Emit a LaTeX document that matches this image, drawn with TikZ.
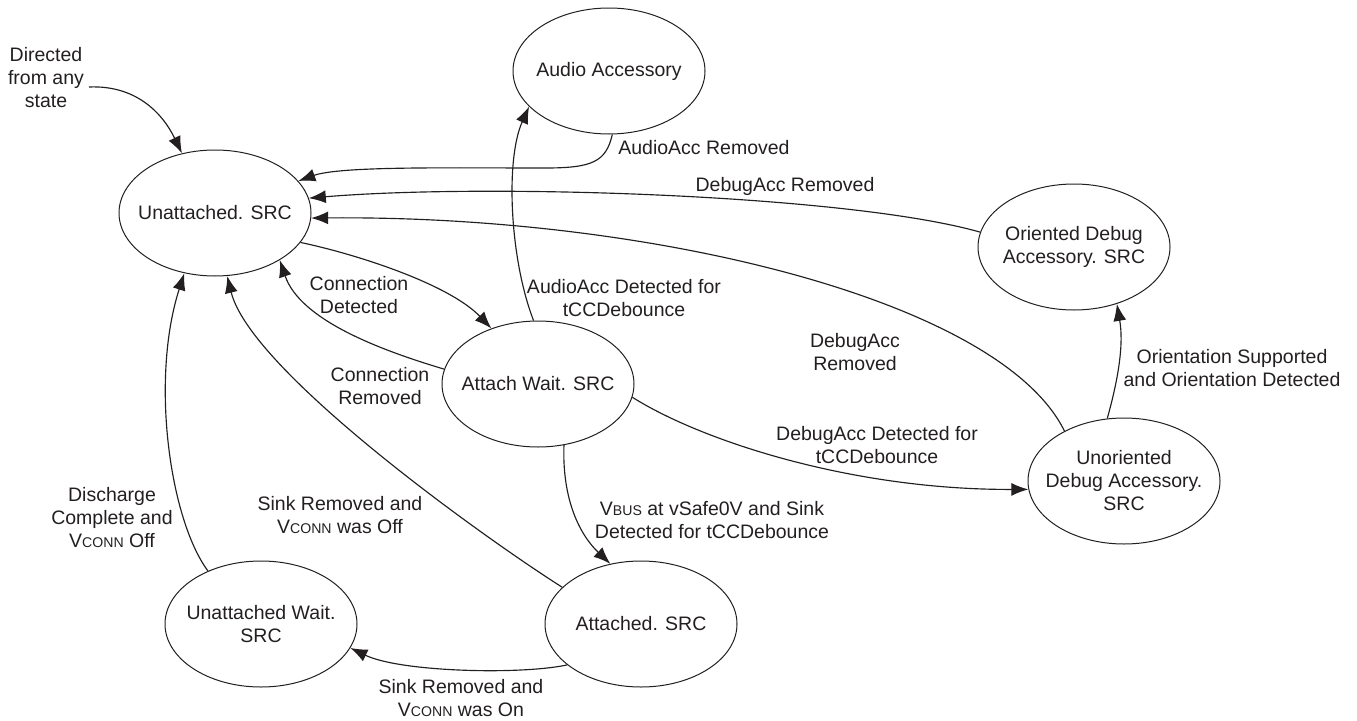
\documentclass[tikz,border=0pt]{standalone}
\usepackage{fontspec}
\setmainfont{Liberation Sans}
\usetikzlibrary{shapes.geometric,arrows.meta}
\definecolor{ink}{HTML}{231F20}
\newcommand{\smc}[1]{{\fontsize{14.1pt}{14pt}\selectfont #1}}
\begin{document}
\begin{tikzpicture}[x=1pt,y=-1pt,
  stbox/.style={ellipse,draw=ink,line width=1pt,minimum width=192pt,minimum height=126pt,inner sep=0pt},
  lbl/.style={align=center,font=\fontsize{19.5pt}{23pt}\selectfont,text=ink,inner sep=0pt},
  arr/.style={draw=ink,line width=1.15pt,-{Latex[length=17pt,width=13pt]}}]
\useasboundingbox (0,0) rectangle (1357,720);
% states
\node[stbox] (un) at (215,213) {};
\node[lbl] (un-t) at (un) {Unattached. SRC};
\node[stbox] (au) at (609,71) {};
\node[lbl] (au-t) at (au) {Audio Accessory};
\node[stbox] (od) at (1074,247) {};
\node[lbl] (od-t) at (od) {Oriented Debug\\Accessory. SRC};
\node[stbox] (aw) at (538,384) {};
\node[lbl] (aw-t) at (aw) {Attach Wait. SRC};
\node[stbox] (ud) at (1124,481) {};
\node[lbl] (ud-t) at (ud) {Unoriented\\Debug Accessory.\\SRC};
\node[stbox] (uw) at (261,624) {};
\node[lbl] (uw-t) at (uw) {Unattached Wait.\\SRC};
\node[stbox] (at) at (641,624) {};
\node[lbl] (at-t) at (at) {Attached. SRC};
% labels
\node[lbl] (l-dir) at (46,78) {Directed\\from any\\state};
\coordinate (dirs) at (89,87);
\node[lbl] (l-aar) at (704,148) {AudioAcc Removed};
\node[lbl] (l-dar1) at (785,186) {DebugAcc Removed};
\node[lbl] (l-dar2) at (855,352) {DebugAcc\\Removed};
\node[lbl] (l-ori) at (1232,368) {Orientation Supported\\and Orientation Detected};
\node[lbl] (l-aad) at (624,298) {AudioAcc Detected for\\tCCDebounce};
\node[lbl] (l-cd) at (359,295) {Connection\\Detected};
\node[lbl] (l-cr) at (380,386) {Connection\\Removed};
\node[lbl] (l-dad) at (877,445) {DebugAcc Detected for\\tCCDebounce};
\node[lbl] (l-vb) at (712,520) {V\smc{BUS} at vSafe0V and Sink\\Detected for tCCDebounce};
\node[lbl] (l-sro) at (340,515) {Sink Removed and\\V\smc{CONN} was Off};
\node[lbl] (l-dc) at (112,518) {Discharge\\Complete and\\V\smc{CONN} Off};
\node[lbl] (l-srn) at (461,698) {Sink Removed and\\V\smc{CONN} was On};
% transitions
\draw[arr] (dirs) .. controls (135,85) and (162,112) .. (un.119);
\draw[arr] (au.-87) .. controls (606,162) and (592,168) .. (545,168) .. controls (450,168) and (340,166) .. (un.21);
\draw[arr] (od.171) .. controls (850,195) and (490,183) .. (un.9);
\draw[arr] (ud.140) .. controls (1000,300) and (650,215) .. (un.-3);
\draw[arr] (un.-19) .. controls (360,255) and (450,285) .. (aw.130);
\draw[arr] (aw.171) .. controls (380,350) and (300,320) .. (un.-36);
\draw[arr] (aw.94) .. controls (510,260) and (505,160) .. (au.204);
\draw[arr] (aw.-8) .. controls (700,440) and (850,490) .. (ud.185);
\draw[arr] (aw.-67) .. controls (562,500) and (580,535) .. (at.117);
\draw[arr] (at.155) .. controls (480,535) and (250,370) .. (un.-79);
\draw[arr] (uw.135) .. controls (170,520) and (150,380) .. (un.-117);
\draw[arr] (at.209) .. controls (520,675) and (400,672) .. (uw.-15);
\draw[arr] (ud.105) .. controls (1118,380) and (1124,345) .. (od.-53);
\end{tikzpicture}
\end{document}
